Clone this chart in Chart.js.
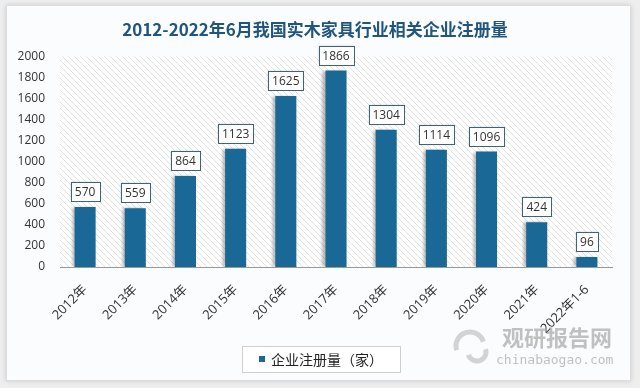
<!DOCTYPE html>
<html>
<head>
<meta charset="utf-8">
<script src="https://cdn.jsdelivr.net/npm/chart.js@4.4.0/dist/chart.umd.min.js"></script>
<style>
  html, body { margin: 0; padding: 0; background: #eeeeee; }
  #wrap { position: relative; width: 640px; height: 388px; }
  canvas { display: block; }
</style>
</head>
<body>
<div id="wrap"><canvas id="chart" width="640" height="388"></canvas></div>
<script>
const categories = ["2012年", "2013年", "2014年", "2015年", "2016年", "2017年", "2018年", "2019年", "2020年", "2021年", "2022年1-6"];
const registrations = [570, 559, 864, 1123, 1625, 1866, 1304, 1114, 1096, 424, 96];
const yTicks = [0, 200, 400, 600, 800, 1000, 1200, 1400, 1600, 1800, 2000];

const titleText = "2012-2022年6月我国实木家具行业相关企业注册量";
const seriesName = "企业注册量（家）";
const barColor = "#1a6896";

// diagonal hatch for the plot area
function makeHatch() {
    const p = document.createElement("canvas");
    p.width = 6; p.height = 6;
    const c = p.getContext("2d");
    c.fillStyle = "#ffffff";
    c.fillRect(0, 0, 6, 6);
    c.strokeStyle = "#e2e2e2";
    c.lineWidth = 1;
    c.beginPath();
    c.moveTo(0, 0); c.lineTo(6, 6);
    c.moveTo(-3, 3); c.lineTo(3, 9);
    c.moveTo(3, -3); c.lineTo(9, 3);
    c.stroke();
    return p;
}

const decor = {
    id: "decor",
    beforeDraw(chart) {
        const ctx = chart.ctx;
        ctx.save();
        // card
        ctx.fillStyle = "#eeeeee";
        ctx.fillRect(0, 0, chart.width, chart.height);
        ctx.shadowColor = "rgba(0,0,0,0.15)";
        ctx.shadowBlur = 5;
        ctx.fillStyle = "#fbfcfd";
        ctx.fillRect(6, 5, 625, 376);
        ctx.shadowColor = "transparent";
        ctx.strokeStyle = "#dcdcdc";
        ctx.strokeRect(6.5, 5.5, 624, 375);
        // hatched plot area
        const a = chart.chartArea;
        ctx.fillStyle = ctx.createPattern(makeHatch(), "repeat");
        ctx.fillRect(a.left, a.top, a.right - a.left, a.bottom - a.top);
        ctx.restore();
    },
    beforeDatasetsDraw(chart) {
        const ctx = chart.ctx;
        ctx.save();
        ctx.shadowColor = "rgba(0,0,0,0.28)";
        ctx.shadowBlur = 3;
        ctx.shadowOffsetX = -3;
        ctx.shadowOffsetY = 0;
    },
    afterDatasetsDraw(chart) {
        const ctx = chart.ctx;
        ctx.restore();
        // value boxes
        const meta = chart.getDatasetMeta(0);
        ctx.save();
        ctx.font = "12px 'Open Sans', sans-serif";
        ctx.textAlign = "center";
        ctx.textBaseline = "middle";
        meta.data.forEach((bar, i) => {
            const txt = String(registrations[i]);
            const w = Math.round(ctx.measureText(txt).width + 8);
            const h = 19;
            const x = Math.round(bar.x - w / 2);
            const y = Math.round(bar.y - 6 - h);
            ctx.shadowColor = "rgba(0,0,0,0.2)";
            ctx.shadowBlur = 2;
            ctx.fillStyle = "#ffffff";
            ctx.fillRect(x, y, w, h);
            ctx.shadowColor = "transparent";
            ctx.strokeStyle = "#3f6478";
            ctx.lineWidth = 1;
            ctx.strokeRect(x + 0.5, y + 0.5, w, h);
            ctx.fillStyle = "#333333";
            ctx.fillText(txt, bar.x, y + h / 2 + 1);
        });
        ctx.restore();
    },
    afterDraw(chart) {
        const ctx = chart.ctx;
        ctx.save();
        // legend with a border
        ctx.fillStyle = "#ffffff";
        ctx.fillRect(242, 346, 158, 26);
        ctx.strokeStyle = "#cfcfcf";
        ctx.lineWidth = 1;
        ctx.strokeRect(242.5, 346.5, 158, 26);
        ctx.fillStyle = barColor;
        ctx.fillRect(259, 356, 6, 6);
        ctx.fillStyle = "#222222";
        ctx.font = "14px 'Noto Sans CJK SC', sans-serif";
        ctx.textBaseline = "middle";
        ctx.fillText(chart.data.datasets[0].label, 271, 360);
        // watermark
        ctx.fillStyle = "rgba(120,120,120,0.45)";
        ctx.font = "bold 22px 'Noto Sans CJK SC', sans-serif";
        ctx.textAlign = "left";
        ctx.fillText("观研报告网", 502, 338);
        ctx.font = "13px 'DejaVu Sans Mono', monospace";
        ctx.fillText("chinabaogao.com", 496, 361);
        ctx.beginPath();
        ctx.lineWidth = 5;
        ctx.strokeStyle = "rgba(150,150,150,0.4)";
        ctx.arc(470, 346, 14, Math.PI * 0.9, Math.PI * 1.9);
        ctx.stroke();
        ctx.beginPath();
        ctx.arc(477, 352, 9, Math.PI * 1.9, Math.PI * 0.9);
        ctx.stroke();
        ctx.restore();
    }
};

new Chart(document.getElementById("chart"), {
    type: "bar",
    data: {
        labels: categories,
        datasets: [{
            label: seriesName,
            data: registrations,
            backgroundColor: barColor,
            categoryPercentage: 1,
            barPercentage: 0.42
        }]
    },
    options: {
        responsive: false,
        animation: false,
        layout: { padding: { left: 18, right: 28, top: 4, bottom: 0 } },
        plugins: {
            title: {
                display: true,
                text: titleText,
                color: "#1f557e",
                font: { family: "'Noto Sans CJK SC', sans-serif", size: 17, weight: "bold" },
                padding: { top: 15, bottom: 17 }
            },
            legend: { display: false },
            tooltip: { enabled: false }
        },
        scales: {
            x: {
                grid: { display: false, drawTicks: false },
                border: { color: "#999999" },
                afterFit(axis) {
                    axis.height = 121;
                    axis.paddingLeft = 0;
                    axis.paddingRight = 0;
                },
                ticks: {
                    color: "#333333",
                    font: { family: "'Open Sans', 'Noto Sans CJK SC', sans-serif", size: 13 },
                    maxRotation: 45,
                    minRotation: 45,
                    padding: 15
                }
            },
            y: {
                min: 0,
                max: 2000,
                afterBuildTicks(axis) { axis.ticks = yTicks.map(v => ({ value: v })); },
                afterFit(axis) { axis.width = 42; },
                grid: { display: false, drawTicks: false },
                border: { display: false },
                ticks: {
                    color: "#333333",
                    font: { family: "'Open Sans', sans-serif", size: 12 },
                    padding: 15,
                    callback: v => String(v)
                }
            }
        }
    },
    plugins: [decor]
});
</script>
</body>
</html>
